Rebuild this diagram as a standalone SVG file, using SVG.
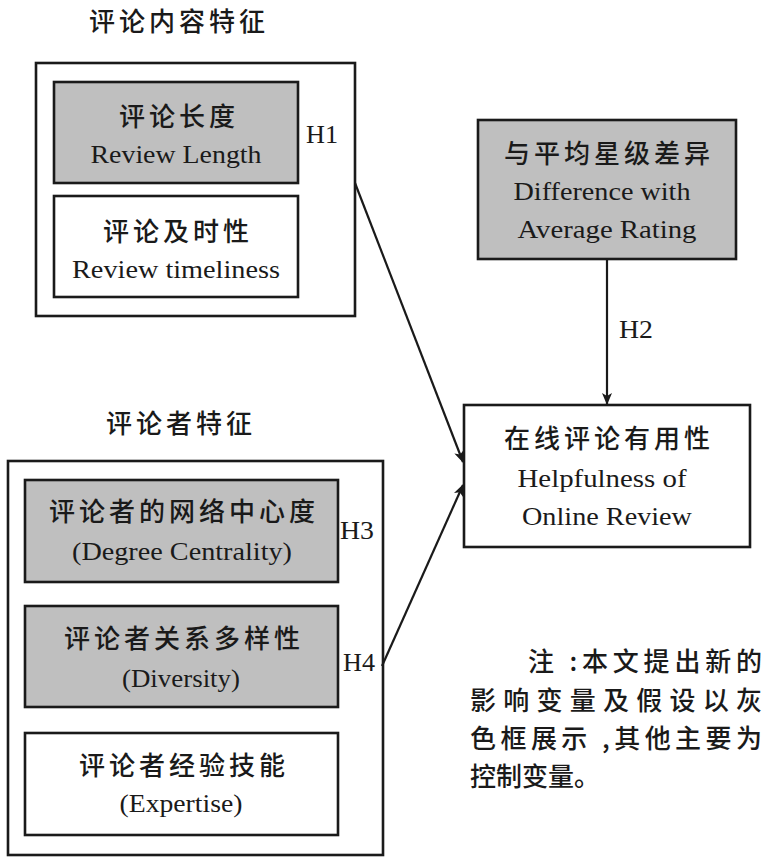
<svg xmlns="http://www.w3.org/2000/svg" width="771" height="868" viewBox="0 0 771 868">
<defs>
<style>
.box{stroke:#1a1a1a;stroke-width:2.6;fill:#fff}
.gray{fill:#bfbfbf}
.cn{font-family:"Noto Sans CJK SC","Noto Sans",sans-serif;font-size:26px;font-weight:500;letter-spacing:4px;fill:#1a1a1a;text-anchor:middle}
.en{font-family:"Liberation Serif","Times New Roman",serif;font-size:25px;fill:#1a1a1a;text-anchor:middle}
.h{font-family:"Liberation Serif","Times New Roman",serif;font-size:25px;fill:#1a1a1a}
.note{font-family:"Noto Sans CJK SC","Noto Sans",sans-serif;font-size:26px;font-weight:500;fill:#1a1a1a}
.edge{stroke:#1a1a1a;stroke-width:2.2;fill:none}
</style>
<marker id="arr" viewBox="0 0 12 10" refX="11" refY="5" markerWidth="12" markerHeight="10" markerUnits="userSpaceOnUse" orient="auto">
<path d="M0,0 L12,5 L0,10 L3,5 z" fill="#1a1a1a"/>
</marker>
</defs>

<g id="group-content">
<text class="cn" x="179" y="31">评论内容特征</text>
<rect class="box" x="36" y="63" width="319" height="253"/>
</g>
<g id="node-length">
<rect class="box gray" x="54" y="82" width="244" height="101"/>
<text class="cn" x="179" y="126">评论长度</text>
<text class="en" x="176" y="163" textLength="171" lengthAdjust="spacingAndGlyphs">Review Length</text>
</g>
<g id="node-timeliness">
<rect class="box" x="54" y="196" width="244" height="101"/>
<text class="cn" x="178" y="241">评论及时性</text>
<text class="en" x="176" y="278" textLength="208" lengthAdjust="spacingAndGlyphs">Review timeliness</text>
</g>

<g id="node-diff">
<rect class="box gray" x="478" y="120" width="258" height="139"/>
<text class="cn" x="609" y="163">与平均星级差异</text>
<text class="en" x="602" y="200" textLength="177" lengthAdjust="spacingAndGlyphs">Difference with</text>
<text class="en" x="607" y="238" textLength="179" lengthAdjust="spacingAndGlyphs">Average Rating</text>
</g>

<g id="node-helpfulness">
<rect class="box" x="464" y="405" width="286" height="142"/>
<text class="cn" x="609" y="448">在线评论有用性</text>
<text class="en" x="602" y="487" textLength="169" lengthAdjust="spacingAndGlyphs">Helpfulness of</text>
<text class="en" x="607" y="525" textLength="170" lengthAdjust="spacingAndGlyphs">Online Review</text>
</g>

<g id="group-reviewer">
<text class="cn" x="181" y="433">评论者特征</text>
<rect class="box" x="8" y="461" width="375" height="394"/>
</g>
<g id="node-centrality">
<rect class="box gray" x="25" y="480" width="313" height="102"/>
<text class="cn" x="184" y="521">评论者的网络中心度</text>
<text class="en" x="182" y="560" textLength="220" lengthAdjust="spacingAndGlyphs">(Degree Centrality)</text>
</g>
<g id="node-diversity">
<rect class="box gray" x="25" y="606" width="313" height="101"/>
<text class="cn" x="184" y="648">评论者关系多样性</text>
<text class="en" x="181" y="687" textLength="118" lengthAdjust="spacingAndGlyphs">(Diversity)</text>
</g>
<g id="node-expertise">
<rect class="box" x="25" y="733" width="313" height="102"/>
<text class="cn" x="184" y="775">评论者经验技能</text>
<text class="en" x="181" y="812" textLength="123" lengthAdjust="spacingAndGlyphs">(Expertise)</text>
</g>

<g id="connectors">
<line class="edge" x1="355" y1="183" x2="463" y2="462" marker-end="url(#arr)"/>
<line class="edge" x1="607" y1="259" x2="607" y2="404" marker-end="url(#arr)"/>
<line class="edge" x1="382" y1="666" x2="463" y2="485" marker-end="url(#arr)"/>
<text class="h" x="306" y="143" textLength="32" lengthAdjust="spacingAndGlyphs">H1</text>
<text class="h" x="619" y="338" textLength="34" lengthAdjust="spacingAndGlyphs">H2</text>
<text class="h" x="340" y="539" textLength="34" lengthAdjust="spacingAndGlyphs">H3</text>
<text class="h" x="343" y="671" textLength="32" lengthAdjust="spacingAndGlyphs">H4</text>
</g>

<g id="note">
<text class="note" x="528" y="671" textLength="234" lengthAdjust="spacing">注 :本文提出新的</text>
<text class="note" x="470" y="710" textLength="292" lengthAdjust="spacing">影响变量及假设以灰</text>
<text class="note" x="470" y="748" textLength="292" lengthAdjust="spacing">色框展示 ,其他主要为</text>
<text class="note" x="470" y="786" textLength="130" lengthAdjust="spacing">控制变量。</text>
</g>
</svg>
